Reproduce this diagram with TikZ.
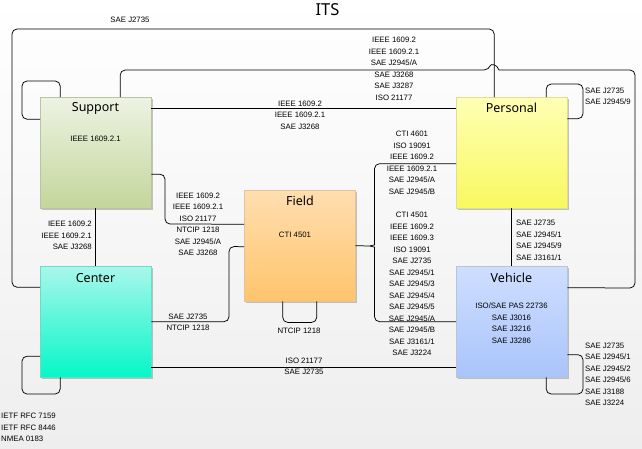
\documentclass[tikz,border=0pt]{standalone}
\usepackage{fontspec}
\setmainfont{Liberation Sans}
\newfontfamily\titlefont{Noto Sans}
\usetikzlibrary{shadows,calc}
\definecolor{supT}{HTML}{EDF3E3}
\definecolor{supB}{HTML}{C3D69B}
\definecolor{cenT}{HTML}{A9F7EB}
\definecolor{cenB}{HTML}{05F7C8}
\definecolor{fldT}{HTML}{FFDEB0}
\definecolor{fldB}{HTML}{FFC46C}
\definecolor{perT}{HTML}{FFFFB5}
\definecolor{perB}{HTML}{F8F860}
\definecolor{vehT}{HTML}{CEDEFF}
\definecolor{vehB}{HTML}{AAC4FB}
\definecolor{bgB}{HTML}{EEEEEE}
\begin{document}
\begin{tikzpicture}[x=1pt,y=-1pt,
  conn/.style={draw=black,line width=0.75pt,rounded corners=5pt},
  box/.style={line width=0.4pt,minimum width=111pt,minimum height=111pt,
    anchor=north west,inner sep=0pt,
    drop shadow={shadow xshift=2pt,shadow yshift=-2pt,fill=black,opacity=0.22}},
  ttl/.style={font=\titlefont\fontsize{12.5}{14}\selectfont,inner sep=0pt},
  std/.style={font=\fontsize{7.8}{11.5}\selectfont,inner sep=0pt,align=center},
  stdl/.style={std,align=left,anchor=west},
  stdr/.style={std,align=right,anchor=east},
  big/.style={font=\titlefont\fontsize{16.5}{18}\selectfont,inner sep=0pt}]
\useasboundingbox (0,0) rectangle (642,448);
\shade[top color=white,bottom color=bgB] (0,0) rectangle (642,448);

% boxes
\node[box,top color=supT,bottom color=supB,draw=supB!80!black!70] (sup) at (40,97) {};
\node[box,top color=cenT,bottom color=cenB,draw=cenB!80!black!60] (cen) at (40,266) {};
\node[box,top color=fldT,bottom color=fldB,draw=fldB!80!black!60] (fld) at (244,190) {};
\node[box,top color=perT,bottom color=perB,draw=perB!80!black!60] (per) at (456,97) {};
\node[box,top color=vehT,bottom color=vehB,draw=vehB!80!black!60] (veh) at (456,266) {};

% titles
\node[big] (its) at (327.5,10) {ITS};
\node[ttl] (supt) at (95.5,108) {Support};
\node[ttl] (cent) at (95.5,278) {Center};
\node[ttl] (fldt) at (300,201) {Field};
\node[ttl] (pert) at (511.5,108) {Personal};
\node[ttl] (veht) at (511.5,278) {Vehicle};

% inner texts
\node[std] (supi) at (95.5,139) {IEEE 1609.2.1};
\node[std] (fldi) at (295,235) {CTI 4501};
\node[std] (vehi) at (511.5,323) {ISO/SAE PAS 22736\\SAE J3016\\SAE J3216\\SAE J3286};

% connectors
% Center - Personal (outer loop)
\draw[conn] ([yshift=34.5pt]cen.west) -| (12,29) -| ([xshift=-17.5pt]per.north);
\node[std] (l1) at (130,20) {SAE J2735};

% Support - Vehicle (loop with hop)
\draw[conn] ([xshift=24.5pt]sup.north) |- (489,70) [sharp corners]
  .. controls (491,64) and (497,64) .. (499,70) [rounded corners=5pt]
  -| (635,288) -- ([yshift=34pt]veh.east);
\node[std] (l2) at (394,69) {IEEE 1609.2\\IEEE 1609.2.1\\SAE J2945/A\\SAE J3268\\SAE J3287\\ISO 21177};

% Support - Personal
\draw[conn] ([yshift=44.5pt]sup.east) -- ([yshift=44.5pt]sup.east -| per.west);
\node[std] (l3) at (300,115) {IEEE 1609.2\\IEEE 1609.2.1\\SAE J3268};

% Support self loop
\draw[conn] ([xshift=-35.5pt]sup.north) |- (22,81) |- ([yshift=33.5pt]sup.west);

% Support - Center
\draw[conn] (sup.south) -- (cen.north);
\node[stdr] (l4) at (92,235.5) {IEEE 1609.2\\IEEE 1609.2.1\\SAE J3268};

% Support - Field
\draw[conn] ([yshift=-21.5pt]sup.east) -| (165,224) -- ([yshift=21.5pt]fld.west);
\node[std] (l5) at (198,224.5) {IEEE 1609.2\\IEEE 1609.2.1\\ISO 21177\\NTCIP 1218\\SAE J2945/A\\SAE J3268};

% Center - Field
\draw[conn] (cen.east) -| (229,246.5) -- ([yshift=-1pt]fld.west);
\node[std] (l6) at (188,322.5) {SAE J2735\\NTCIP 1218};

% Field self loop
\draw[conn] ([xshift=-17pt]fld.south) -- ++(0,21) -| ([xshift=17pt]fld.south);
\node[std] (l7) at (299,331) {NTCIP 1218};

% Field - Personal / Vehicle (brace)
\draw[conn] (fld.east) -- (370,246);
\draw[conn] (370,246) .. controls (373,246) and (374.5,244) .. (374.5,240)
  |- ([yshift=-11pt]per.west);
\draw[conn] (370,246) .. controls (373,246) and (374.5,248) .. (374.5,252)
  |- (veh.west);
\node[std] (l8) at (412,163) {CTI 4601\\ISO 19091\\IEEE 1609.2\\IEEE 1609.2.1\\SAE J2945/A\\SAE J2945/B};
\node[std] (l9) at (412,284) {CTI 4501\\IEEE 1609.2\\IEEE 1609.3\\ISO 19091\\SAE J2735\\SAE J2945/1\\SAE J2945/3\\SAE J2945/4\\SAE J2945/5\\SAE J2945/A\\SAE J2945/B\\SAE J3161/1\\SAE J3224};

% Personal - Vehicle
\draw[conn] (per.south) -- (per.south |- veh.north);
\node[stdl] (l10) at (516,240.5) {SAE J2735\\SAE J2945/1\\SAE J2945/9\\SAE J3161/1};

% Personal self loop
\draw[conn] ([xshift=34.5pt]per.north) |- (583,84) |- ([yshift=34pt]per.east);
\node[stdl] (l11) at (585,96.5) {SAE J2735\\SAE J2945/9};

% Center - Vehicle
\draw[conn] ([yshift=-45.5pt]cen.east) -- ([yshift=-45.5pt]cen.east -| veh.west);
\node[std] (l12) at (304,366.5) {ISO 21177\\SAE J2735};

% Vehicle self loop
\draw[conn] ([yshift=-33pt]veh.east) -| (583,394) -| ([xshift=34.5pt]veh.south);
\node[stdl] (l13) at (585,374.5) {SAE J2735\\SAE J2945/1\\SAE J2945/2\\SAE J2945/6\\SAE J3188\\SAE J3224};

% Center self loop
\draw[conn] ([yshift=-34.5pt]cen.west) -| (22,394) -| ([xshift=-35.5pt]cen.south);
\node[stdl] (l14) at (1,427.5) {IETF RFC 7159\\IETF RFC 8446\\NMEA 0183};
\end{tikzpicture}
\end{document}
